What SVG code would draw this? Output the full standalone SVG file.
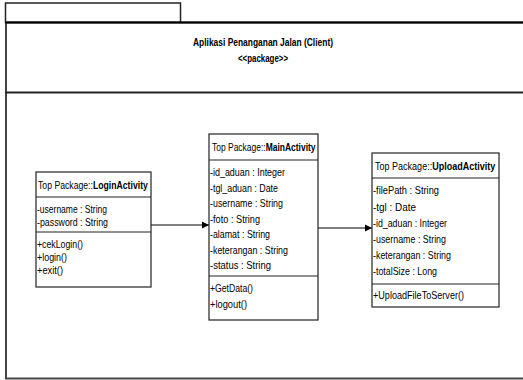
<svg xmlns="http://www.w3.org/2000/svg" width="523" height="380" viewBox="0 0 523 380">
<style>
text{font-family:"Liberation Sans Narrow","Liberation Sans",Arial,sans-serif;font-size:11.5px;fill:#000}
.b{font-weight:bold}
.box{fill:#fff;stroke:#222;stroke-width:1.2}
.sep{stroke:#222;stroke-width:1.2}
.conn{stroke:#000;stroke-width:1;fill:none;marker-end:url(#ah)}
</style>
<defs>
<marker id="ah" markerWidth="8" markerHeight="8" refX="7" refY="4" orient="auto" markerUnits="userSpaceOnUse">
<path d="M0,0.5 L7,4 L0,7.5 Z" fill="#000"/>
</marker>
</defs>
<rect width="523" height="380" fill="#fff"/>
<g id="package">
<rect x="5.5" y="3" width="175" height="19.5" fill="#fff" stroke="#222" stroke-width="1.5"/>
<rect x="6" y="22.5" width="530" height="356" fill="#fff" stroke="#444" stroke-width="2"/>
<line x1="5" y1="22.5" x2="523" y2="22.5" stroke="#000" stroke-width="2.2"/>
<line x1="5" y1="92.5" x2="523" y2="92.5" stroke="#222" stroke-width="2"/>
<text class="b" x="263" y="46" text-anchor="middle" textLength="140" lengthAdjust="spacingAndGlyphs">Aplikasi Penanganan Jalan (Client)</text>
<text class="b" x="263" y="62" text-anchor="middle" textLength="50" lengthAdjust="spacingAndGlyphs">&lt;&lt;package&gt;&gt;</text>
</g>
<g id="connectors">
<line class="conn" x1="151" y1="225" x2="209" y2="225"/>
<line class="conn" x1="318" y1="228" x2="372" y2="228"/>
</g>
<g id="LoginActivity">
<rect class="box" x="36" y="172" width="115" height="115"/>
<line class="sep" x1="36" y1="197" x2="151" y2="197"/>
<line class="sep" x1="36" y1="232" x2="151" y2="232"/>
<text transform="translate(38,189) scale(0.755,1)">Top Package::<tspan class="b">LoginActivity</tspan></text>
<text x="37" y="213" textLength="70" lengthAdjust="spacingAndGlyphs">-username : String</text>
<text x="37" y="226" textLength="71" lengthAdjust="spacingAndGlyphs">-password : String</text>
<text x="37" y="248" textLength="46" lengthAdjust="spacingAndGlyphs">+cekLogin()</text>
<text x="37" y="261" textLength="30" lengthAdjust="spacingAndGlyphs">+login()</text>
<text x="37" y="274" textLength="26" lengthAdjust="spacingAndGlyphs">+exit()</text>
</g>
<g id="MainActivity">
<rect class="box" x="209" y="134" width="109" height="186"/>
<line class="sep" x1="209" y1="160" x2="318" y2="160"/>
<line class="sep" x1="209" y1="276" x2="318" y2="276"/>
<text transform="translate(212,151) scale(0.737,1)">Top Package::<tspan class="b">MainActivity</tspan></text>
<text x="210" y="176" textLength="75" lengthAdjust="spacingAndGlyphs">-id_aduan : Integer</text>
<text x="210" y="191.5" textLength="68" lengthAdjust="spacingAndGlyphs">-tgl_aduan : Date</text>
<text x="210" y="207" textLength="73" lengthAdjust="spacingAndGlyphs">-username : String</text>
<text x="210" y="222.5" textLength="50" lengthAdjust="spacingAndGlyphs">-foto : String</text>
<text x="210" y="238" textLength="60" lengthAdjust="spacingAndGlyphs">-alamat : String</text>
<text x="210" y="253.5" textLength="78" lengthAdjust="spacingAndGlyphs">-keterangan : String</text>
<text x="210" y="269" textLength="61" lengthAdjust="spacingAndGlyphs">-status : String</text>
<text x="210" y="292" textLength="43" lengthAdjust="spacingAndGlyphs">+GetData()</text>
<text x="210" y="308" textLength="37" lengthAdjust="spacingAndGlyphs">+logout()</text>
</g>
<g id="UploadActivity">
<rect class="box" x="372" y="153" width="127" height="154"/>
<line class="sep" x1="372" y1="178" x2="499" y2="178"/>
<line class="sep" x1="372" y1="284" x2="499" y2="284"/>
<text transform="translate(375,170) scale(0.785,1)">Top Package::<tspan class="b">UploadActivity</tspan></text>
<text x="373" y="194" textLength="66" lengthAdjust="spacingAndGlyphs">-filePath : String</text>
<text x="373" y="210.5" textLength="43" lengthAdjust="spacingAndGlyphs">-tgl : Date</text>
<text x="373" y="227" textLength="74" lengthAdjust="spacingAndGlyphs">-id_aduan : Integer</text>
<text x="373" y="243" textLength="73" lengthAdjust="spacingAndGlyphs">-username : String</text>
<text x="373" y="259" textLength="78" lengthAdjust="spacingAndGlyphs">-keterangan : String</text>
<text x="373" y="275" textLength="64" lengthAdjust="spacingAndGlyphs">-totalSize : Long</text>
<text x="373" y="299" textLength="91" lengthAdjust="spacingAndGlyphs">+UploadFileToServer()</text>
</g>
</svg>
